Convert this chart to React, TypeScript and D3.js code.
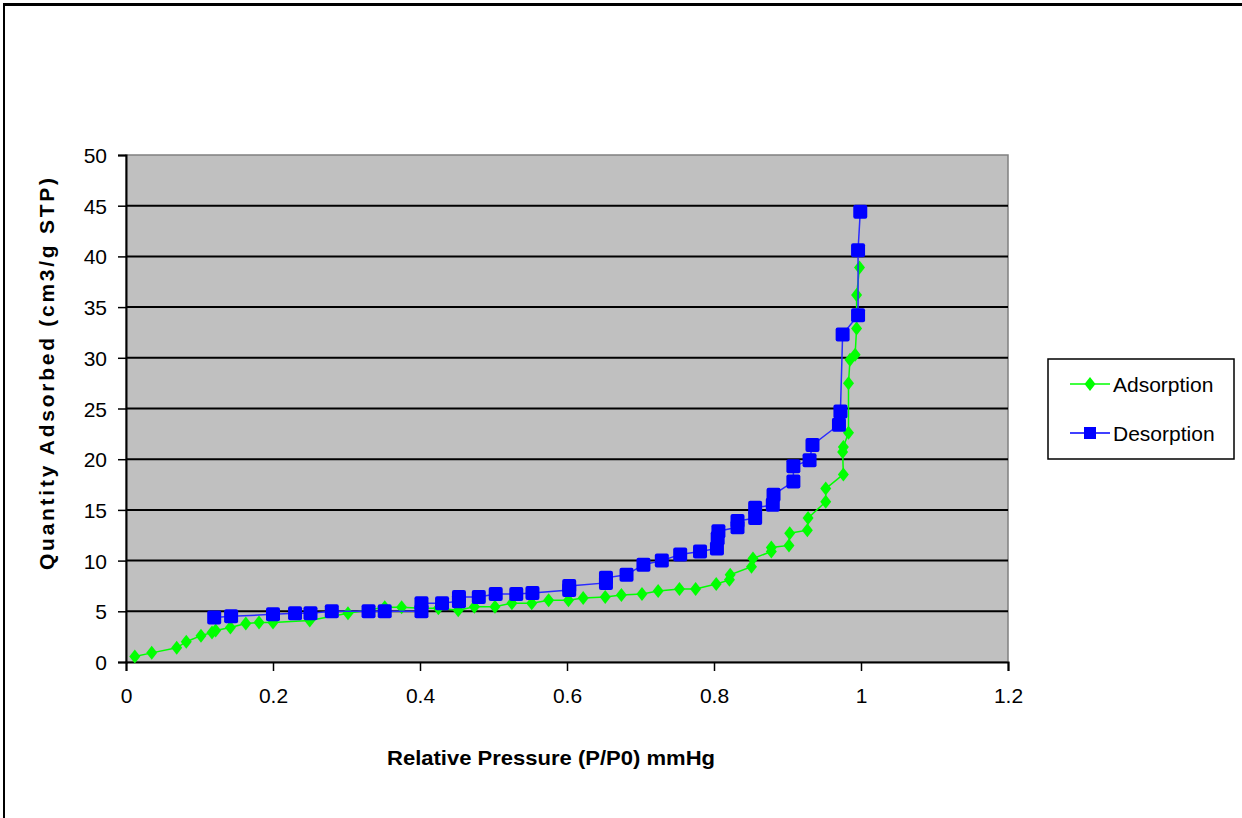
import React, { useEffect, useRef } from "react";
import * as d3 from "d3";

// adsorption branch (P/P0, cm3/g STP)
const adsP = [0.012, 0.035, 0.069, 0.082, 0.102, 0.117, 0.122, 0.142, 0.163, 0.181, 0.2, 0.25, 0.302, 0.352, 0.375, 0.402, 0.425, 0.452, 0.474, 0.502, 0.525, 0.552, 0.575, 0.602, 0.622, 0.652, 0.674, 0.702, 0.724, 0.753, 0.775, 0.803, 0.821, 0.822, 0.851, 0.853, 0.878, 0.878, 0.902, 0.903, 0.927, 0.928, 0.952, 0.952, 0.976, 0.975, 0.976, 0.983, 0.983, 0.985, 0.992, 0.994, 0.994, 0.998];
const adsQ = [0.55, 0.9, 1.4, 2.0, 2.6, 2.9, 3.1, 3.4, 3.8, 3.9, 3.9, 4.1, 4.8, 5.4, 5.4, 5.3, 5.3, 5.1, 5.45, 5.45, 5.8, 5.8, 6.1, 6.1, 6.3, 6.4, 6.6, 6.7, 7.0, 7.2, 7.2, 7.7, 8.1, 8.6, 9.4, 10.2, 10.9, 11.3, 11.5, 12.7, 13.0, 14.2, 15.8, 17.1, 18.5, 20.7, 21.2, 22.6, 27.5, 29.8, 30.3, 32.9, 36.2, 38.9];

// desorption branch, from high pressure down
const desP = [0.999, 0.996, 0.996, 0.975, 0.972, 0.97, 0.934, 0.93, 0.908, 0.908, 0.881, 0.88, 0.856, 0.856, 0.832, 0.832, 0.806, 0.805, 0.804, 0.781, 0.754, 0.729, 0.704, 0.681, 0.653, 0.653, 0.603, 0.603, 0.553, 0.531, 0.503, 0.48, 0.453, 0.453, 0.43, 0.402, 0.402, 0.352, 0.33, 0.28, 0.251, 0.23, 0.2, 0.143, 0.12];
const desQ = [44.4, 40.6, 34.2, 32.3, 24.7, 23.4, 21.4, 19.9, 19.3, 17.8, 16.5, 15.5, 15.2, 14.2, 13.9, 13.3, 12.9, 12.2, 11.2, 10.9, 10.6, 10.0, 9.6, 8.6, 8.3, 7.8, 7.5, 7.1, 6.8, 6.7, 6.7, 6.4, 6.4, 6.0, 5.8, 5.8, 5.0, 5.0, 5.0, 5.0, 4.8, 4.8, 4.7, 4.5, 4.4];

const xTicks = [0, 0.2, 0.4, 0.6, 0.8, 1, 1.2];
const yTicks = [0, 5, 10, 15, 20, 25, 30, 35, 40, 45, 50];

const W = 1242;
const H = 818;
const FONT = "'Liberation Sans', Arial, sans-serif";

export default function App() {
  const ref = useRef<SVGSVGElement>(null);

  useEffect(() => {
    document.body.style.margin = "0";
    const svg = d3.select(ref.current);
    svg.selectAll("*").remove();

    const left = 126, right = 1008, top = 155, bottom = 662;
    const x = d3.scaleLinear().domain([0, 1.2]).range([left, right]);
    const y = d3.scaleLinear().domain([0, 50]).range([bottom, top]);

    svg.append("rect").attr("width", W).attr("height", H).attr("fill", "#fff");

    // outer frame (only top and left show in the picture)
    svg.append("line").attr("x1", 3).attr("x2", W).attr("y1", 4.5).attr("y2", 4.5)
      .attr("stroke", "#000").attr("stroke-width", 3);
    svg.append("line").attr("x1", 4).attr("x2", 4).attr("y1", 3).attr("y2", H)
      .attr("stroke", "#000").attr("stroke-width", 2);

    // plot area
    svg.append("rect")
      .attr("x", left).attr("y", top)
      .attr("width", right - left).attr("height", bottom - top)
      .attr("fill", "#c0c0c0").attr("stroke", "#808080").attr("stroke-width", 1.5);

    // gridlines
    svg.append("g").selectAll("line")
      .data(yTicks.filter((d) => d > 0 && d < 50))
      .enter().append("line")
      .attr("x1", left).attr("x2", right)
      .attr("y1", (d) => y(d)).attr("y2", (d) => y(d))
      .attr("stroke", "#000").attr("stroke-width", 2);

    // axes
    const xAxis = d3.axisBottom(x).tickValues(xTicks).tickSize(9).tickFormat((d) => String(d));
    const gx = svg.append("g").attr("transform", "translate(0," + bottom + ")").call(xAxis);
    gx.select(".domain").attr("stroke", "#000").attr("stroke-width", 2);
    gx.selectAll(".tick line").attr("stroke", "#000").attr("stroke-width", 1.5);
    gx.selectAll(".tick text")
      .attr("font-family", FONT).attr("font-size", 21).attr("fill", "#000")
      .attr("dy", null).attr("y", 41);

    const yAxis = d3.axisLeft(y).tickValues(yTicks).tickSize(8);
    const gy = svg.append("g").attr("transform", "translate(" + left + ",0)").call(yAxis);
    gy.select(".domain").attr("stroke", "#000").attr("stroke-width", 2);
    gy.selectAll(".tick line").attr("stroke", "#000").attr("stroke-width", 1.5);
    gy.selectAll(".tick text")
      .attr("font-family", FONT).attr("font-size", 21).attr("fill", "#000")
      .attr("x", -19).attr("dy", "0.36em");

    // axis titles
    svg.append("text")
      .attr("x", 551).attr("y", 765)
      .attr("text-anchor", "middle")
      .attr("font-family", FONT).attr("font-size", 21).attr("font-weight", "bold")
      .attr("textLength", 328).attr("lengthAdjust", "spacingAndGlyphs")
      .text("Relative Pressure (P/P0) mmHg");

    svg.append("text")
      .attr("transform", "translate(54,374) rotate(-90)")
      .attr("text-anchor", "middle")
      .attr("font-family", FONT).attr("font-size", 21).attr("font-weight", "bold")
      .attr("textLength", 392).attr("lengthAdjust", "spacing")
      .text("Quantity Adsorbed (cm3/g STP)");

    const line = d3.line<[number, number]>().x((d) => x(d[0])).y((d) => y(d[1]));
    const ads: [number, number][] = adsP.map((p, i) => [p, adsQ[i]]);
    const des: [number, number][] = desP.map((p, i) => [p, desQ[i]]);

    const diamond = (cx: number, cy: number) =>
      `M${cx},${cy - 7}L${cx + 5.5},${cy}L${cx},${cy + 7}L${cx - 5.5},${cy}Z`;

    // adsorption
    svg.append("path").attr("d", line(ads)).attr("fill", "none")
      .attr("stroke", "#00ff00").attr("stroke-width", 1.5);
    svg.append("g").selectAll("path").data(ads).enter().append("path")
      .attr("d", (d) => diamond(x(d[0]), y(d[1])))
      .attr("fill", "#00ff00");

    // desorption
    svg.append("path").attr("d", line(des)).attr("fill", "none")
      .attr("stroke", "#2a2aff").attr("stroke-width", 1.5);
    svg.append("g").selectAll("rect").data(des).enter().append("rect")
      .attr("x", (d) => x(d[0]) - 7).attr("y", (d) => y(d[1]) - 7)
      .attr("width", 14).attr("height", 14).attr("rx", 2)
      .attr("fill", "#0000ff");

    // legend
    const lg = svg.append("g");
    lg.append("rect").attr("x", 1048).attr("y", 359).attr("width", 186).attr("height", 100)
      .attr("fill", "#fff").attr("stroke", "#000").attr("stroke-width", 1.5);
    const items = [
      { name: "Adsorption", color: "#00ff00", cy: 384, shape: "diamond" },
      { name: "Desorption", color: "#0000ff", cy: 433, shape: "square" },
    ];
    items.forEach((it) => {
      lg.append("line").attr("x1", 1070).attr("x2", 1110).attr("y1", it.cy).attr("y2", it.cy)
        .attr("stroke", it.color).attr("stroke-width", 1.5);
      if (it.shape === "diamond") {
        lg.append("path").attr("d", diamond(1090, it.cy)).attr("fill", it.color);
      } else {
        lg.append("rect").attr("x", 1084).attr("y", it.cy - 6).attr("width", 12).attr("height", 12)
          .attr("fill", it.color);
      }
      lg.append("text").attr("x", 1113).attr("y", it.cy + 8)
        .attr("font-family", FONT).attr("font-size", 21).attr("fill", "#000")
        .text(it.name);
    });
  });

  return <svg ref={ref} width={W} height={H} style={{ display: "block" }}></svg>;
}
